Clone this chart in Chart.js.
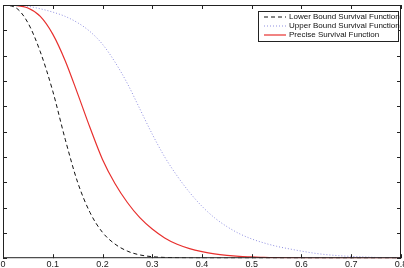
<!DOCTYPE html>
<html>
<head>
<meta charset="utf-8">
<script src="https://cdn.jsdelivr.net/npm/chart.js@4/dist/chart.umd.min.js"></script>
<style>
  html, body { margin: 0; padding: 0; background: #fff; }
  #wrap { width: 404px; height: 268px; }
</style>
</head>
<body>
<div id="wrap"><canvas id="survival" width="404" height="268"></canvas></div>
<script>
// x positions (time) shared by all three curves
const xValues = [0, 0.025, 0.05, 0.075, 0.1, 0.125, 0.15, 0.175, 0.2, 0.225, 0.25, 0.275,
    0.3, 0.325, 0.35, 0.375, 0.4, 0.425, 0.45, 0.475, 0.5, 0.525, 0.55, 0.575,
    0.6, 0.625, 0.65, 0.675, 0.7, 0.725, 0.75, 0.775, 0.8];

const lowerBound = [1, 0.99, 0.93, 0.815, 0.66, 0.47, 0.3, 0.18, 0.102, 0.056, 0.028, 0.013,
    0.006, 0.003, 0.0015, 0.0007, 0.0003, 0, 0, 0, 0, 0, 0, 0,
    0, 0, 0, 0, 0, 0, 0, 0, 0];

const upperBound = [1, 1, 0.995, 0.985, 0.972, 0.955, 0.93, 0.895, 0.845, 0.775, 0.69, 0.59,
    0.49, 0.4, 0.325, 0.26, 0.205, 0.16, 0.125, 0.097, 0.076, 0.06, 0.047, 0.037,
    0.028, 0.02, 0.014, 0.01, 0.007, 0.005, 0.003, 0.002, 0.001];

const precise = [1, 0.998, 0.988, 0.955, 0.885, 0.78, 0.65, 0.515, 0.39, 0.295, 0.22, 0.16,
    0.115, 0.08, 0.055, 0.038, 0.026, 0.017, 0.011, 0.007, 0.005, 0.003, 0.002, 0.0015,
    0.001, 0, 0, 0, 0, 0, 0, 0, 0];

const xTicks = [0, 0.1, 0.2, 0.3, 0.4, 0.5, 0.6, 0.7, 0.8];
const yTicks = [0, 0.1, 0.2, 0.3, 0.4, 0.5, 0.6, 0.7, 0.8, 0.9, 1];

const seriesLabels = ['Lower Bound Survival Function', 'Upper Bound Survival Function', 'Precise Survival Function'];

function toPoints(vals) {
    return xValues.map((x, i) => ({ x: x, y: vals[i] }));
}

// frame + inward tick marks, matlab style
const framePlugin = {
    id: 'frame',
    afterDatasetsDraw(chart) {
        const ctx = chart.ctx;
        const a = chart.chartArea;
        const xs = chart.scales.x, ys = chart.scales.y;
        ctx.save();
        ctx.strokeStyle = '#222';
        ctx.lineWidth = 1;
        ctx.strokeRect(a.left + 0.5, a.top + 0.5, a.right - a.left - 1, a.bottom - a.top - 1);
        ctx.beginPath();
        xTicks.forEach(t => {
            const px = Math.round(xs.getPixelForValue(t)) + 0.5;
            ctx.moveTo(px, a.bottom); ctx.lineTo(px, a.bottom - 4);
            ctx.moveTo(px, a.top); ctx.lineTo(px, a.top + 4);
        });
        yTicks.forEach(t => {
            const py = Math.round(ys.getPixelForValue(t)) + 0.5;
            ctx.moveTo(a.left, py); ctx.lineTo(a.left + 4, py);
            ctx.moveTo(a.right, py); ctx.lineTo(a.right - 4, py);
        });
        ctx.stroke();

        // legend box in the upper right
        const bx = a.right - 143, by = a.top + 6, bw = 140, bh = 30;
        ctx.fillStyle = '#fff';
        ctx.fillRect(bx, by, bw, bh);
        ctx.strokeStyle = '#222';
        ctx.strokeRect(bx + 0.5, by + 0.5, bw, bh);
        ctx.font = '8px "Liberation Sans", Arial, sans-serif';
        ctx.textBaseline = 'middle';
        chart.data.datasets.forEach((ds, i) => {
            const ly = by + 6 + i * 9;
            ctx.beginPath();
            ctx.strokeStyle = ds.borderColor;
            ctx.lineWidth = ds.borderWidth;
            ctx.setLineDash(ds.borderDash || []);
            ctx.moveTo(bx + 6, ly); ctx.lineTo(bx + 28, ly);
            ctx.stroke();
            ctx.setLineDash([]);
            ctx.fillStyle = '#111';
            ctx.fillText(ds.label, bx + 31, ly);
        });
        ctx.restore();
    }
};

const ctx = document.getElementById('survival').getContext('2d');
new Chart(ctx, {
    type: 'line',
    data: {
        datasets: [
            {
                label: seriesLabels[0],
                data: toPoints(lowerBound),
                borderColor: '#111',
                borderWidth: 1,
                borderDash: [4, 3],
                pointRadius: 0,
                fill: false,
                cubicInterpolationMode: 'monotone',
            },
            {
                label: seriesLabels[1],
                data: toPoints(upperBound),
                borderColor: '#8f8fe0',
                borderWidth: 1,
                borderDash: [1, 2],
                pointRadius: 0,
                fill: false,
                cubicInterpolationMode: 'monotone',
            },
            {
                label: seriesLabels[2],
                data: toPoints(precise),
                borderColor: '#e8302e',
                borderWidth: 1.2,
                pointRadius: 0,
                fill: false,
                cubicInterpolationMode: 'monotone',
            },
        ],
    },
    options: {
        responsive: false,
        animation: false,
        layout: { padding: { left: 3, right: 3, top: 5, bottom: -3 } },
        plugins: {
            legend: { display: false },
            tooltip: { enabled: false },
        },
        scales: {
            x: {
                type: 'linear',
                min: 0,
                max: 0.8,
                grid: { display: false, drawTicks: false },
                border: { display: false },
                afterBuildTicks: (scale) => { scale.ticks = xTicks.map(v => ({ value: v })); },
                afterFit: (scale) => { scale.paddingLeft = 0; scale.paddingRight = 0; },
                ticks: {
                    padding: 1,
                    color: '#222',
                    font: { family: '"Liberation Sans", Arial, sans-serif', size: 9 },
                    maxRotation: 0,
                    autoSkip: false,
                    callback: (v) => String(v),
                },
            },
            y: {
                type: 'linear',
                min: 0,
                max: 1,
                grid: { display: false, drawTicks: false },
                border: { display: false },
                ticks: { display: false },
            },
        },
    },
    plugins: [framePlugin],
});
</script>
</body>
</html>
